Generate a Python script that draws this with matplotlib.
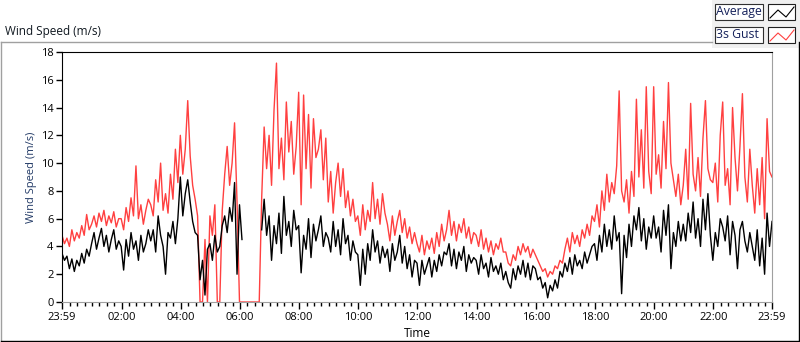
import numpy as np
import matplotlib
matplotlib.use("Agg")
import matplotlib.pyplot as plt
from matplotlib.lines import Line2D
from matplotlib.patches import Rectangle

plt.rcParams["font.family"] = ["Open Sans", "DejaVu Sans"]

# 5-minute samples starting at 23:59, wind speed in tenths of m/s (one row per hour)
avg_tenths = [
    35, 30, 33, 24, 31, 22, 30, 26, 35, 28, 38, 33,
    42, 50, 38, 46, 53, 40, 48, 36, 45, 52, 38, 44,
    40, 23, 45, 33, 50, 38, 44, 30, 48, 36, 42, 52,
    44, 52, 36, 62, 48, 40, 20, 50, 46, 58, 42, 60,
    90, 62, 78, 88, 72, 58, 50, 48, 16, 30, 5, 38,
    42, 30, 48, 36, 40, 55, 62, 50, 68, 58, 86, 20,
    70, 45, None, None, None, None, None, None, None, 52, 74, 48,
    62, 30, 55, 42, 64, 35, 76, 48, 58, 40, 66, 52,
    55, 21, 48, 38, 60, 32, 56, 44, 52, 62, 40, 50,
    46, 36, 58, 40, 52, 34, 60, 42, 48, 30, 44, 36,
    34, 12, 38, 20, 42, 30, 52, 36, 44, 28, 40, 32,
    38, 22, 42, 30, 36, 48, 28, 40, 24, 34, 18, 30,
    28, 12, 30, 20, 26, 32, 18, 30, 22, 34, 26, 36,
    34, 42, 26, 38, 24, 36, 30, 40, 22, 34, 28, 32,
    30, 20, 34, 24, 28, 18, 32, 22, 26, 20, 28, 16,
    22, 14, 10, 24, 16, 26, 20, 30, 18, 28, 16, 26,
    24, 16, 18, 10, 14, 3, 12, 8, 16, 10, 22, 18,
    28, 22, 32, 20, 34, 26, 30, 24, 36, 28, 34, 40,
    42, 30, 48, 36, 56, 40, 52, 38, 62, 44, 50, 6,
    48, 32, 56, 40, 62, 52, 68, 44, 60, 38, 54, 46,
    62, 46, 54, 36, 66, 48, 70, 24, 50, 40, 58, 44,
    56, 44, 64, 50, 72, 46, 60, 40, 74, 52, 78, 48,
    30, 50, 40, 60, 54, 44, 62, 34, 58, 48, 24, 52,
    58, 44, 36, 50, 40, 30, 52, 26, 46, 20, 64, 40,
    58,
]
gust_tenths = [
    48, 42, 46, 40, 52, 44, 50, 46, 55, 48, 63, 52,
    56, 62, 54, 64, 58, 66, 55, 62, 57, 65, 54, 60,
    60, 52, 68, 58, 75, 62, 98, 60, 70, 56, 66, 74,
    70, 62, 88, 72, 100, 66, 78, 64, 92, 74, 110, 86,
    120, 92, 110, 145, 105, 84, 74, 62, 0, 0, 45, 0,
    62, 48, 70, 0, 0, 66, 92, 112, 84, 100, 129, 72,
    0, 0, 0, 0, 0, 0, 0, 0, 0, 75, 126, 96,
    120, 84, 138, 172, 96, 118, 88, 144, 108, 130, 92, 112,
    151, 70, 149, 96, 135, 82, 132, 104, 110, 124, 88, 118,
    72, 94, 64, 86, 100, 76, 96, 68, 80, 62, 74, 58,
    62, 48, 70, 52, 66, 58, 86, 60, 74, 56, 78, 64,
    56, 44, 62, 48, 58, 66, 50, 60, 46, 54, 42, 50,
    42, 36, 48, 34, 44, 38, 46, 35, 50, 40, 56, 44,
    52, 66, 48, 58, 44, 56, 50, 60, 46, 54, 42, 50,
    48, 40, 52, 38, 46, 36, 44, 34, 42, 38, 46, 36,
    36, 28, 26, 34, 30, 40, 34, 42, 36, 40, 32, 38,
    34, 30, 26, 22, 24, 18, 22, 20, 26, 24, 30, 28,
    38, 46, 36, 50, 42, 48, 40, 52, 46, 56, 48, 62,
    58, 70, 54, 80, 66, 92, 72, 86, 78, 98, 152, 80,
    72, 88, 64, 94, 76, 146, 90, 124, 82, 155, 94, 78,
    155, 92, 106, 82, 130, 96, 158, 100, 88, 76, 92, 70,
    84, 110, 74, 143, 92, 80, 104, 76, 118, 145, 96, 88,
    86, 100, 72, 120, 144, 84, 96, 70, 140, 104, 80, 112,
    150, 90, 72, 110, 84, 64, 96, 70, 104, 60, 132, 94,
    90,
]
tick_labels = ["23:59", "02:00", "04:00", "06:00", "08:00", "10:00", "12:00",
               "14:00", "16:00", "18:00", "20:00", "22:00", "23:59"]

avg = np.array(avg_tenths, dtype=float) / 10
gust = np.array(gust_tenths, dtype=float) / 10
hours = np.arange(len(avg)) / 12.0          # hours after 23:59

# tick positions in hours after 23:59 (clock hours are 1 min later)
major = [0] + [h + 1 / 60 for h in range(2, 24, 2)] + [24]
minor = [m * 0.25 + 1 / 60 for m in range(1, 96) if m % 8 != 0]

W, H = 800, 342
fig = plt.figure(figsize=(W / 100, H / 100), dpi=100)
fig.patch.set_facecolor("white")

ax = fig.add_axes([62 / W, 1 - 302 / H, 710 / W, 250 / H])
ax.plot(hours, gust, color="#ff4040", lw=1.0)
ax.plot(hours, avg, color="black", lw=1.0)
ax.set_xlim(0, 24)
ax.set_ylim(0, 18)
ax.set_yticks(range(0, 19, 2))
ax.set_xticks(major, tick_labels)
ax.set_xticks(minor, minor=True)
ax.tick_params(axis="both", labelsize=8, colors="black", direction="out")
ax.tick_params(axis="y", length=4, width=1, pad=2)
ax.tick_params(axis="x", which="major", length=5, width=1, pad=2)
ax.tick_params(axis="x", which="minor", length=3, width=1)
for s in ["top", "left"]:
    ax.spines[s].set_color("black")
for s in ["bottom", "right"]:
    ax.spines[s].set_color("#a0a0a0")
ax.set_ylabel("Wind Speed (m/s)", fontsize=8, color="#223a66", labelpad=3)
ax.set_xlabel("Time", fontsize=8.5, labelpad=3)

# outer frame of the chart control
def fline(x0, y0, x1, y1, c, lw=1.0):
    fig.add_artist(Line2D([x0 / W, x1 / W], [1 - y0 / H, 1 - y1 / H],
                          color=c, lw=lw, transform=fig.transFigure))

fline(0.5, 42, 712, 42, "#a0a0a0")
fline(0.5, 42, 0.5, 341, "#a0a0a0")
fline(0.5, 340.5, 799, 340.5, "black")
fline(799, 42, 799, 341, "black")

fig.text(5 / W, 1 - 31 / H, "Wind Speed (m/s)", fontsize=8.5, va="center",
         ha="left", color="#101820")

# legend panel
fig.add_artist(Rectangle((712 / W, 1 - 48 / H), 88 / W, 48 / H,
                         transform=fig.transFigure, facecolor="#f0f0f0",
                         edgecolor="none"))
for row, (name, col) in enumerate([("Average", "black"), ("3s Gust", "#ff4040")]):
    y0 = 4 + 23 * row
    fig.add_artist(Rectangle((715 / W, 1 - (y0 + 16) / H), 48 / W, 16 / H,
                             transform=fig.transFigure, facecolor="white",
                             edgecolor="#303030", lw=0.8))
    fig.add_artist(Rectangle((768 / W, 1 - (y0 + 16) / H), 27 / W, 16 / H,
                             transform=fig.transFigure, facecolor="white",
                             edgecolor="#202020", lw=0.8))
    fig.text(716.5 / W, 1 - (y0 + 8) / H, name, fontsize=8.8, va="center",
             ha="left", color="#14205a")
    zx = np.array([770, 778, 786, 794]) / W
    zy = 1 - (y0 + np.array([14, 6, 13, 3])) / H
    fig.add_artist(Line2D(zx, zy, color=col, lw=0.8, transform=fig.transFigure))

fig.savefig("out.png", dpi=100)
